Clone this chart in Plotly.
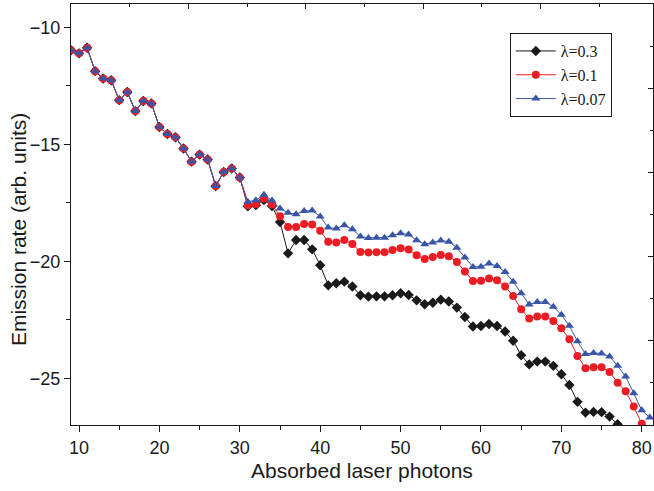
import plotly.graph_objects as go

common_y = [-10.98, -11.11, -10.87, -11.87, -12.19, -12.26, -13.11, -12.76, -13.58, -13.15,
            -13.25, -14.26, -14.56, -14.70, -15.18, -15.74, -15.44, -15.65, -16.78, -16.18,
            -16.03, -16.42]  # x = 9..30, the three curves coincide

x_black = list(range(9, 78))
y_black = common_y + [-17.65, -17.60, -17.38, -17.64, -18.32, -19.66, -19.09, -19.09, -19.49, -20.17,
                      -21.03, -20.94, -20.87, -21.08, -21.45, -21.51, -21.50, -21.50, -21.45, -21.37,
                      -21.44, -21.67, -21.84, -21.77, -21.64, -21.72, -21.98, -22.38, -22.79, -22.77,
                      -22.68, -22.77, -23.00, -23.40, -24.02, -24.41, -24.29, -24.29, -24.47, -24.83,
                      -25.29, -26.01, -26.47, -26.44, -26.45, -26.64, -26.97]

x_red = list(range(9, 81))
y_red = common_y + [-17.60, -17.56, -17.32, -17.57, -18.08, -18.53, -18.53, -18.41, -18.43, -18.70,
                    -19.17, -19.20, -19.09, -19.26, -19.60, -19.62, -19.61, -19.61, -19.52, -19.44,
                    -19.50, -19.74, -19.90, -19.82, -19.73, -19.78, -20.03, -20.44, -20.84, -20.83,
                    -20.74, -20.81, -21.08, -21.48, -22.05, -22.45, -22.36, -22.36, -22.55, -22.86,
                    -23.33, -24.05, -24.57, -24.53, -24.53, -24.73, -25.19, -25.56, -26.21, -26.95]

x_blue = list(range(9, 82))
y_blue = common_y + [-17.45, -17.39, -17.16, -17.40, -17.74, -17.93, -17.99, -17.85, -17.83, -18.09,
                     -18.56, -18.60, -18.46, -18.63, -18.94, -19.00, -18.99, -18.99, -18.89, -18.80,
                     -18.86, -19.10, -19.27, -19.20, -19.11, -19.16, -19.42, -19.84, -20.24, -20.23,
                     -20.10, -20.20, -20.46, -20.87, -21.37, -21.85, -21.74, -21.74, -21.94, -22.29,
                     -22.76, -23.42, -23.96, -23.92, -23.94, -24.07, -24.47, -24.93, -25.64, -26.37,
                     -26.68]

names = ["λ=0.3", "λ=0.1", "λ=0.07"]
x_ticks = [10, 20, 30, 40, 50, 60, 70, 80]
y_ticks = [-10, -15, -20, -25]
x_title = "Absorbed laser photons"
y_title = "Emission rate (arb. units)"

fig = go.Figure()
fig.add_trace(go.Scatter(x=x_black, y=y_black, name=names[0], mode="lines+markers",
                         line=dict(color="#1a1a1a", width=1),
                         marker=dict(symbol="diamond", size=8, color="#1a1a1a")))
fig.add_trace(go.Scatter(x=x_red, y=y_red, name=names[1], mode="lines+markers",
                         line=dict(color="#ec1c24", width=1),
                         marker=dict(symbol="circle", size=8, color="#ec1c24")))
fig.add_trace(go.Scatter(x=x_blue, y=y_blue, name=names[2], mode="lines+markers",
                         line=dict(color="#3a55a8", width=1),
                         marker=dict(symbol="triangle-up", size=8, color="#3a55a8")))
# empty trace so the frame axes (top / right) are drawn
fig.add_trace(go.Scatter(x=[None], y=[None], xaxis="x2", yaxis="y2", showlegend=False,
                         hoverinfo="skip", mode="lines"))

axis_font = dict(family="Liberation Sans, Arial, sans-serif", size=18, color="#1a1a1a")
title_font = dict(family="Liberation Sans, Arial, sans-serif", size=21, color="#1a1a1a")

fig.update_layout(
    width=654, height=491,
    margin=dict(l=71, r=1, t=4, b=66),
    paper_bgcolor="white", plot_bgcolor="white",
    showlegend=True,
    legend=dict(x=0.754, y=0.931, xanchor="left", yanchor="top",
                bgcolor="white", bordercolor="#1a1a1a", borderwidth=1,
                font=dict(family="Liberation Serif, Times New Roman, serif", size=16, color="#1a1a1a"),
                itemwidth=40, tracegroupgap=0),
    xaxis=dict(range=[9.0, 81.4], tickvals=x_ticks, ticks="outside", ticklen=6, tickwidth=1,
               tickcolor="#1a1a1a", showline=True, linecolor="#1a1a1a", linewidth=1,
               showgrid=False, zeroline=False, tickfont=axis_font,
               minor=dict(dtick=5, tick0=5, ticks="outside", ticklen=4, tickcolor="#1a1a1a")),
    yaxis=dict(range=[-27.0, -9.0], tickvals=y_ticks, ticks="outside", ticklen=6, tickwidth=1,
               tickcolor="#1a1a1a", showline=True, linecolor="#1a1a1a", linewidth=1,
               showgrid=False, zeroline=False, tickfont=axis_font,
               minor=dict(dtick=2.5, tick0=-10, ticks="outside", ticklen=4, tickcolor="#1a1a1a")),
    xaxis2=dict(overlaying="x", side="top", range=[0, 9.92], dtick=2, tick0=0, ticks="inside",
                ticklen=5, tickcolor="#1a1a1a", showticklabels=False, showline=True,
                linecolor="#1a1a1a", linewidth=1, showgrid=False, zeroline=False,
                minor=dict(dtick=1, tick0=0, ticks="inside", ticklen=3, tickcolor="#1a1a1a")),
    yaxis2=dict(overlaying="y", side="right", range=[0, 5.01], dtick=1, tick0=0, ticks="inside",
                ticklen=5, tickcolor="#1a1a1a", showticklabels=False, showline=True,
                linecolor="#1a1a1a", linewidth=1, showgrid=False, zeroline=False,
                minor=dict(dtick=0.5, tick0=0, ticks="inside", ticklen=3, tickcolor="#1a1a1a")),
    annotations=[
        dict(text=x_title, xref="paper", yref="paper", x=0.5, y=-0.107,
             xanchor="center", yanchor="middle", showarrow=False, font=title_font),
        dict(text=y_title, xref="paper", yref="paper", x=-0.091, y=0.463, textangle=-90,
             xanchor="center", yanchor="middle", showarrow=False, font=title_font),
    ],
)

fig.write_html("out.html", config={"displayModeBar": False},
               post_script="document.body.style.margin='0';document.body.style.overflow='hidden';")
